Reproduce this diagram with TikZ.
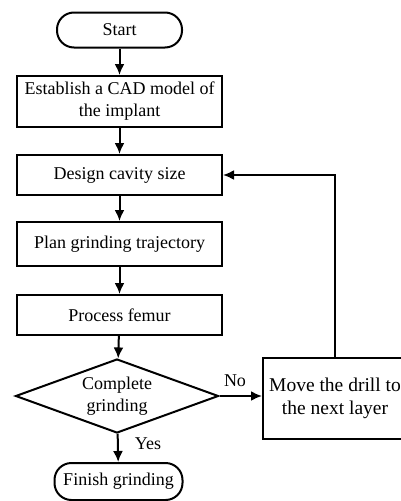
\documentclass[tikz,border=0pt]{standalone}
\usepackage{fontspec}
\setmainfont{Liberation Serif}
\usetikzlibrary{shapes.geometric,arrows.meta}
\tikzstyle{step box}=[rectangle, draw=black, line width=2pt, minimum width=205pt, align=center, inner sep=1pt]
\tikzstyle{term}=[rectangle, rounded corners=17pt, draw=black, line width=2pt, align=center, inner sep=0pt]
\tikzstyle{flow}=[line width=2pt, -{Latex[length=11pt,width=10pt]}]
\tikzstyle{annot}=[align=center, inner sep=0pt]

\begin{document}
\begin{tikzpicture}[x=1pt, y=-1pt, font=\fontsize{18}{22}\selectfont]
	\useasboundingbox (0,0) rectangle (401,501);
	\clip (0,0) rectangle (401,501);

	% main column
	\node[term, minimum width=125pt, minimum height=35pt](start) at (119.5,30){Start};
	\node[step box, minimum height=51pt](cad) at (119.5,101.5){Establish a CAD model of\\the implant};
	\node[step box, minimum height=40pt](design) at (119.5,175){Design cavity size};
	\node[step box, minimum height=44pt](plan) at (119.5,244){Plan grinding trajectory};
	\node[step box, minimum height=40pt](process) at (119.5,315){Process femur};
	\node[diamond, draw=black, line width=2pt, align=center, inner sep=0pt, shape aspect=2.75, minimum width=203pt, minimum height=74pt](check) at (117,396){Complete\\grinding};
	\node[term, minimum width=128pt, minimum height=37pt](finish) at (118.5,481.5){Finish grinding};

	% loop back
	\node[step box, minimum width=144pt, minimum height=81pt, font=\fontsize{19.5}{23}\selectfont](move) at (335,398.5){Move the drill to\\the next layer};

	\draw[flow] (start) -- (cad);
	\draw[flow] (cad) -- (design);
	\draw[flow] (design) -- (plan);
	\draw[flow] (plan) -- (process);
	\draw[flow] (process) -- (check);
	\draw[flow] (check) -- (finish);
	\draw[flow] (check.east) -- (check.east -| move.west);
	\draw[flow] (move.north) |- (design.east);

	\node[annot](no) at (235,381){No};
	\node[annot](yes) at (148,444){Yes};

\end{tikzpicture}
\end{document}
